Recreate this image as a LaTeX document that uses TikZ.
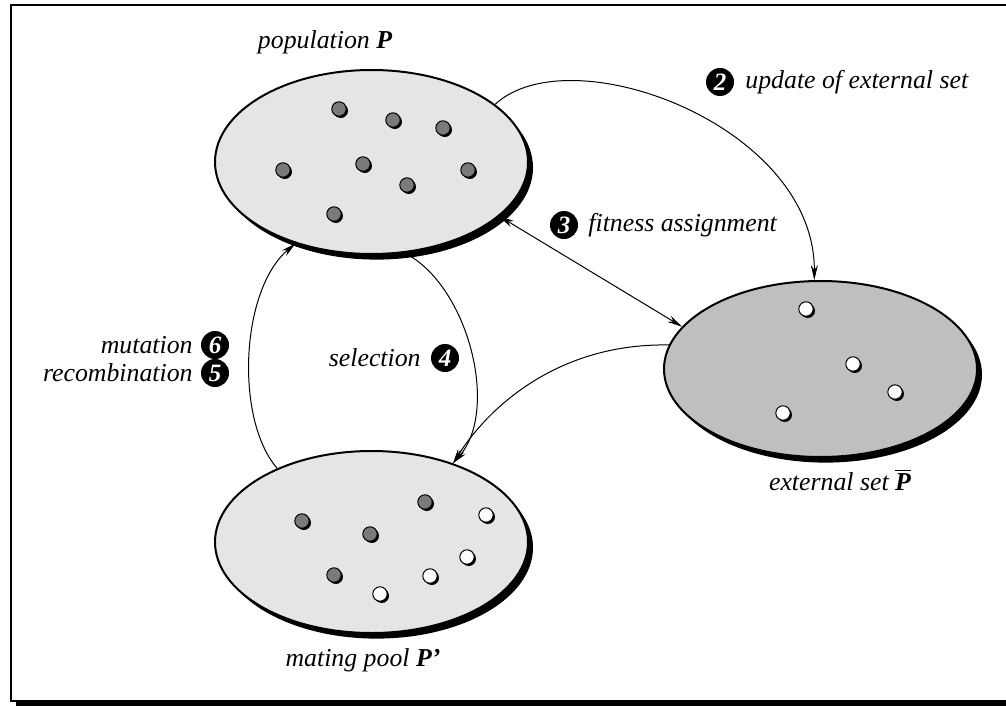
\documentclass[tikz,border=0pt]{standalone}
\usepackage{fontspec}
\setmainfont{Liberation Serif}
\usetikzlibrary{shapes.geometric,shadows,arrows.meta}

\begin{document}
\begin{tikzpicture}[x=0.5pt, y=-0.5pt,
    every node/.style={font=\fontsize{12.9}{15}\selectfont\itshape},
    lbl/.style={inner sep=0pt},
    pool/.style={ellipse, draw, line width=1pt, inner sep=0pt,
        drop shadow={shadow xshift=2.5pt, shadow yshift=-2.8pt, fill=black, opacity=1}},
    ind/.style={circle, draw, line width=0.5pt, minimum size=7.2pt, inner sep=0pt,
        drop shadow={shadow xshift=0.9pt, shadow yshift=-0.9pt, fill=black, opacity=1}},
    old/.style={ind, fill=black!52},
    new/.style={ind, fill=white},
    num/.style={circle, fill=black, text=white, inner sep=0pt, minimum size=14pt,
        font=\fontsize{12.5}{14}\selectfont\bfseries\itshape},
    arr/.style={-{Stealth[length=7.5pt, width=3.5pt]}, line width=0.5pt},
    darr/.style={{Stealth[length=7.5pt, width=3.5pt]}-{Stealth[length=7.5pt, width=3.5pt]}, line width=0.5pt}]

    \useasboundingbox (0,0) rectangle (1006,706);

    % frame with shadow
    \fill (16,11) rectangle (1030,706);
    \draw[fill=white, line width=1pt] (10.5,5.5) rectangle (1024,700.5);

    % the three sets
    \node[pool, fill=black!10, minimum width=156.5pt, minimum height=92pt] (pop) at (371.5,162) {};
    \node[pool, fill=black!25, minimum width=156.5pt, minimum height=88pt] (ext) at (820.5,369) {};
    \node[pool, fill=black!10, minimum width=156.5pt, minimum height=91pt] (mate) at (371.5,542) {};

    % individuals
    \node[old] (p1) at (339,109) {};
    \node[old] (p2) at (393,120) {};
    \node[old] (p3) at (443,128) {};
    \node[old] (p4) at (283,170) {};
    \node[old] (p5) at (363,164) {};
    \node[old] (p6) at (407,185) {};
    \node[old] (p7) at (468,170) {};
    \node[old] (p8) at (334,214) {};

    \node[new] (e1) at (806,309) {};
    \node[new] (e2) at (853,364) {};
    \node[new] (e3) at (895,392) {};
    \node[new] (e4) at (783,413) {};

    \node[old] (m1) at (302,521) {};
    \node[old] (m2) at (370,534) {};
    \node[old] (m3) at (425,502) {};
    \node[old] (m4) at (334,575) {};
    \node[new] (m5) at (486,515) {};
    \node[new] (m6) at (467,557) {};
    \node[new] (m7) at (430,576) {};
    \node[new] (m8) at (380,594) {};

    % set names
    \node[lbl] (lpop) at (325,42) {population \textbf{P}};
    \node[lbl] (lext) at (840,480) {external set $\overline{\hbox{\bfseries\itshape P}}$};
    \node[lbl] (lmate) at (363,660) {mating pool \textbf{P’}};

    % steps
    \node[num] (n2) at (720,82) {2};
    \node[lbl, anchor=west] (l2) at (745,82) {update of external set};
    \node[num] (n3) at (564,225) {3};
    \node[lbl, anchor=west] (l3) at (588,225) {fitness assignment};
    \node[num] (n4) at (445,358) {4};
    \node[lbl, anchor=east] (l4) at (421,358) {selection};
    \node[num] (n5) at (215,373) {5};
    \node[lbl, anchor=east] (l5) at (193,373) {recombination};
    \node[num] (n6) at (215,345) {6};
    \node[lbl, anchor=east] (l6) at (193,345) {mutation};

    \draw[arr] (pop.25) .. controls (570,35) and (815,125) .. (ext.94);
    \draw[darr] (pop.-23) -- (ext.163);
    \draw[arr] (ext.171) .. controls (560,343) and (490,405) .. (mate.44);
    \draw[arr] (pop.-70) .. controls (468,285) and (500,410) .. (mate.44);
    \draw[arr] (mate.142) .. controls (235,420) and (240,290) .. (pop.-133);

\end{tikzpicture}
\end{document}
